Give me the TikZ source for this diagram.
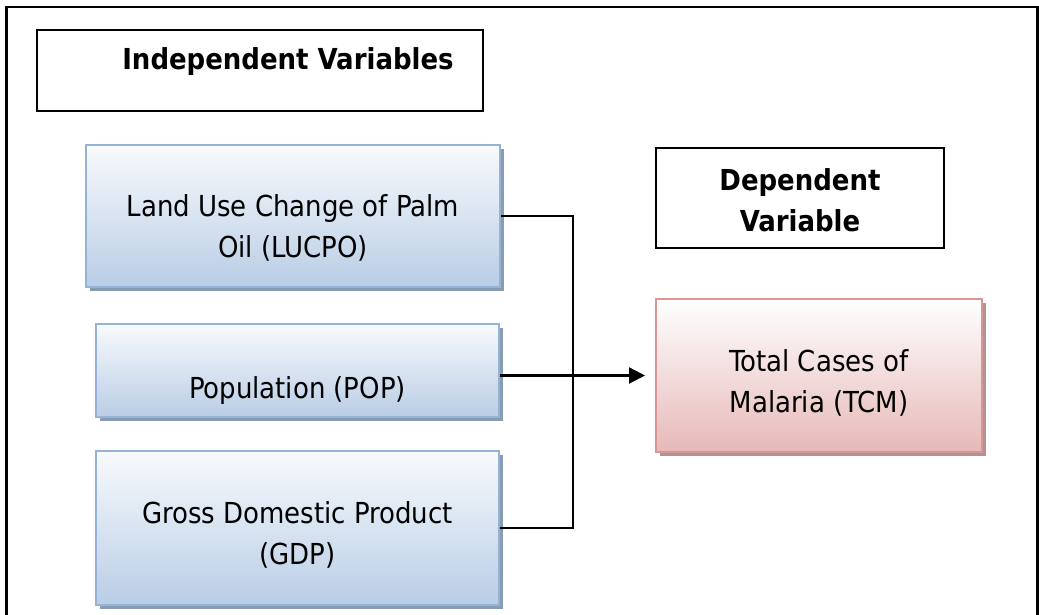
\documentclass[tikz,border=0pt]{standalone}
\usepackage{fontspec}
\setmainfont{DejaVu Sans Condensed}
\usetikzlibrary{arrows.meta,shadows}
\definecolor{bluetop}{HTML}{F8FAFD}
\definecolor{bluebot}{HTML}{B9CDE5}
\definecolor{blueline}{HTML}{95B3D7}
\definecolor{blueshadow}{HTML}{8A9CB4}
\definecolor{pinktop}{HTML}{FFFFFF}
\definecolor{pinkbot}{HTML}{E6B9B8}
\definecolor{pinkline}{HTML}{D99694}
\definecolor{pinkshadow}{HTML}{B09494}
\tikzset{
  hdrbox/.style={draw=black, line width=2bp, fill=white, inner sep=0pt},
  ibox/.style={draw=blueline, line width=2bp, top color=bluetop, bottom color=bluebot,
    drop shadow={shadow xshift=4bp, shadow yshift=-4bp, fill=blueshadow, opacity=1},
    inner sep=0pt},
  dbox/.style={draw=pinkline, line width=2bp, top color=pinktop, bottom color=pinkbot,
    drop shadow={shadow xshift=4bp, shadow yshift=-4bp, fill=pinkshadow, opacity=1},
    inner sep=0pt},
  hdrtxt/.style={font=\bfseries\fontsize{29}{41}\selectfont, align=center, inner sep=0pt},
  bodytxt/.style={font=\fontsize{29}{41}\selectfont, align=center, inner sep=0pt},
  conn/.style={line width=2.2bp, black},
}
\begin{document}
\begin{tikzpicture}[x=1bp,y=1bp]
\useasboundingbox (0,0) rectangle (1039,615);
\fill[white] (0,0) rectangle (1039,615);
% outer frame
\coordinate (fbl) at (6.5,-3);
\coordinate (ftl) at (6.5,608);
\coordinate (ftr) at (1037.5,608);
\coordinate (fbr) at (1037.5,-3);
\draw[line width=2.2bp] (fbl) -- (ftl) -- (ftr) -- (fbr);
% header boxes
\node[hdrbox, minimum width=446bp, minimum height=81bp] (ivbox) at (260,544.5) {};
\node[hdrtxt] (ivtxt) at (288,553) {Independent Variables};
\node[hdrbox, minimum width=288bp, minimum height=100bp] (dvbox) at (800,417) {};
\node[hdrtxt] (dvtxt) at (800,415) {Dependent\\Variable};
% independent variable boxes
\node[ibox, minimum width=414bp, minimum height=142bp] (lucpo) at (293,399) {};
\node[bodytxt] (lucpotxt) at (293,387) {Land Use Change of Palm\\Oil (LUCPO)};
\node[ibox, minimum width=403bp, minimum height=93bp] (pop) at (297.5,244.5) {};
\node[bodytxt] (poptxt) at (297.5,224) {Population (POP)};
\node[ibox, minimum width=403bp, minimum height=154bp] (gdp) at (297.5,87) {};
\node[bodytxt] (gdptxt) at (297.5,80) {Gross Domestic Product\\(GDP)};
% dependent variable box
\node[dbox, minimum width=326bp, minimum height=153bp] (tcm) at (819,239.5) {};
\node[bodytxt] (tcmtxt) at (819,232) {Total Cases of\\Malaria (TCM)};
% connectors
\draw[conn] (lucpo.east) -- ++(72,0) coordinate (jn) |- (gdp.east);
\draw[conn, -{Triangle[length=16bp,width=16bp]}, shorten >=10bp] (pop.east |- tcm.west) -- (tcm.west);
\end{tikzpicture}
\end{document}
